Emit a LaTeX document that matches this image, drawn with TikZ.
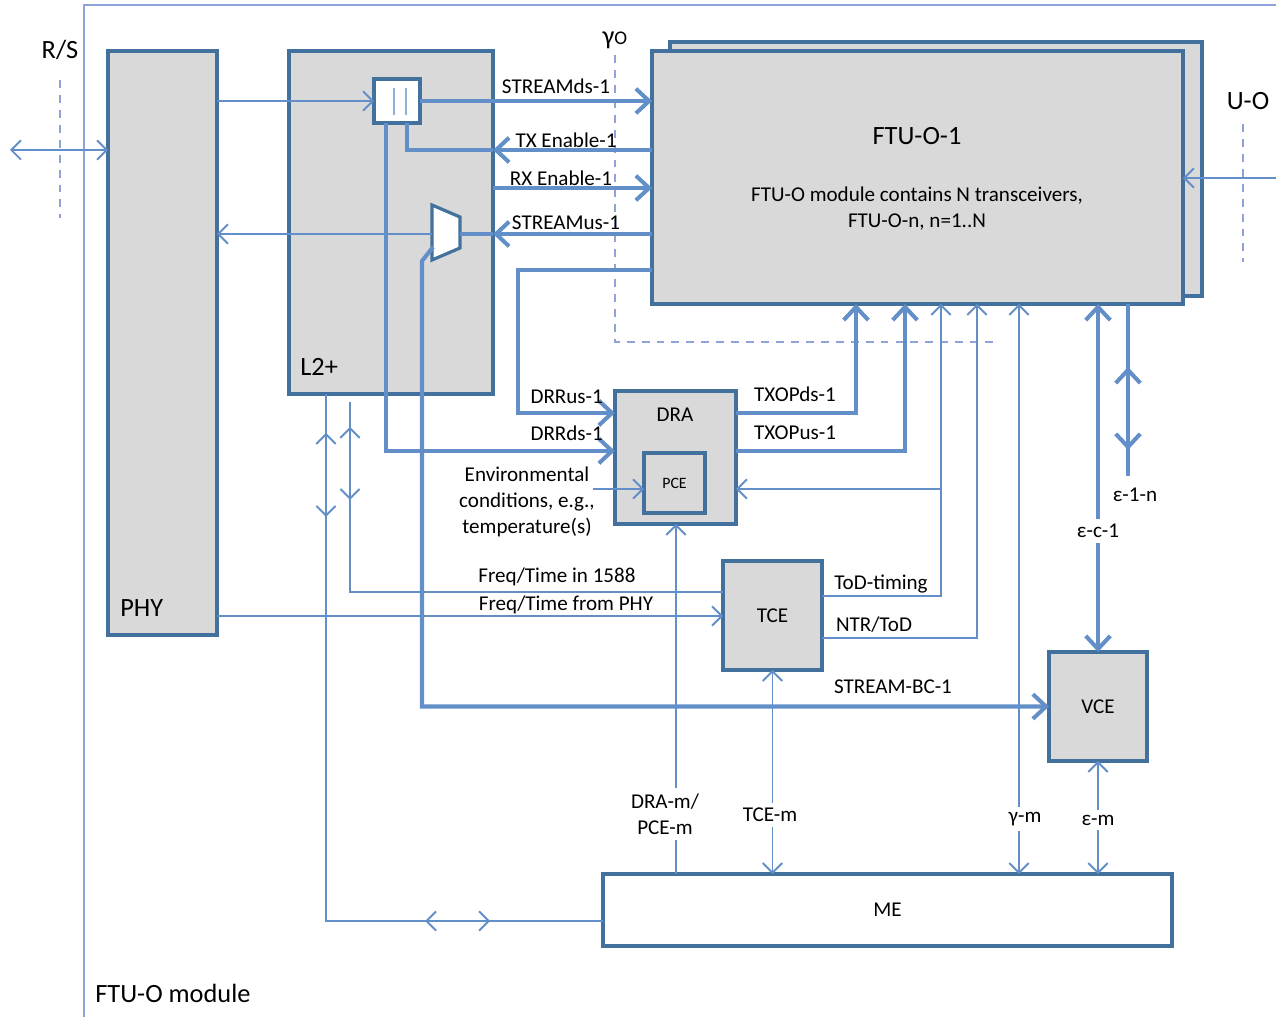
\documentclass[tikz,border=0pt]{standalone}
\usepackage{fontspec}
\setmainfont{Carlito}
\usetikzlibrary{arrows.meta,calc}
\definecolor{boxblue}{RGB}{65,113,156}
\definecolor{linkblue}{RGB}{99,143,200}
\definecolor{dashblue}{RGB}{143,162,218}
\definecolor{boxgray}{RGB}{217,217,217}
\tikzset{
  blk/.style={draw=boxblue, line width=2.3pt, fill=boxgray, inner sep=0pt, outer sep=0pt},
  wblk/.style={blk, fill=white},
  thinline/.style={linkblue, line width=1.1pt, >={Straight Barb[length=5.5pt,width=11pt]}},
  thickline/.style={linkblue, line width=2.3pt, >={Straight Barb[length=7.5pt,width=14pt]}},
  dashline/.style={dashblue, line width=1.1pt, dash pattern=on 4.5pt off 4pt},
  lbl/.style={font=\fontsize{12}{14.8}\selectfont, inner sep=1pt},
  big/.style={font=\fontsize{15}{18}\selectfont, inner sep=0pt},
  cut/.style={lbl, fill=white, inner sep=3pt},
}
\begin{document}
\begin{tikzpicture}[x=0.02cm, y=-0.02cm]
\useasboundingbox (0,0) rectangle (1276,1017);
% module frame and reference points
\draw[dashblue, line width=1.3pt] (84,1017) -- (84,5) -- (1276,5);
\node[big, anchor=west] (tModule) at (95,993) {FTU-O module};
\node[big] (tRS) at (60,50) {R/S};
\draw[dashline] (60,80) -- (60,218);
\node[big] (tUO) at (1248,101) {U-O};
\draw[dashline] (1243,124) -- (1243,262);
\node[big] (tGamO) at (615,40) {γ{\fontsize{11}{12}\selectfont O}};
\draw[dashline] (615,55) -- (615,342) -- (1000,342);

% blocks
\node[blk, minimum width=2.18cm, minimum height=11.68cm] (phy) at (162.5,343) {};
\node[big, anchor=west] (tPhy) at (120,608) {PHY};
\node[blk, minimum width=4.08cm, minimum height=6.86cm] (l2) at (391,222.5) {};
\node[big, anchor=west] (tL2) at (300,367) {L2+};
\node[blk, minimum width=10.64cm, minimum height=5.08cm] (ftuback) at (936,169) {};
\node[blk, minimum width=10.62cm, minimum height=5.06cm] (ftu) at (917.5,177.5) {};
\node[big] (tFtu) at (917,136) {FTU-O-1};
\node[lbl, align=center] (tFtuN) at (917,209)
  {FTU-O module contains N transceivers,\\FTU-O-n, n=1..N};
\node[blk, minimum width=2.42cm, minimum height=2.66cm] (dra) at (675.5,457.5) {};
\node[lbl] (tDra) at (675,415) {DRA};
\node[blk, minimum width=1.22cm, minimum height=1.2cm, font=\fontsize{9}{10}\selectfont] (pce) at (674.5,483) {PCE};
\node[blk, minimum width=1.98cm, minimum height=2.18cm, font=\fontsize{12}{14}\selectfont] (tce) at (772.5,615.5) {TCE};
\node[blk, minimum width=1.96cm, minimum height=2.18cm, font=\fontsize{12}{14}\selectfont] (vce) at (1098,706.5) {VCE};
\node[wblk, minimum width=11.38cm, minimum height=1.44cm, font=\fontsize{12}{14}\selectfont] (me) at (887.5,910) {ME};

% buffer and mux
\node[wblk, line width=1.8pt, minimum width=0.92cm, minimum height=0.88cm] (buf) at (397,101) {};
\draw[linkblue!70, line width=0.9pt] (394,88) -- (394,115) (406,88) -- (406,115);
\draw[draw=boxblue, fill=white, line width=1.8pt] (432,205) -- (460,217) -- (460,248) -- (432,260) -- cycle;
\coordinate (muxR) at (460,234);
\coordinate (muxL) at (432,234);
\coordinate (muxB) at (433,247);

% rows and columns used by the connectors
\coordinate (rsL) at (10,150);
\coordinate (uoR) at (1276,178);
\coordinate (envL) at (593,489);
\coordinate (yTx) at (0,150);
\coordinate (yRx) at (0,188);
\coordinate (yDrr) at (0,270);
\coordinate (yDra1) at (0,413);
\coordinate (yDra2) at (0,451);
\coordinate (yPce) at (0,489);
\coordinate (y1588) at (0,592);
\coordinate (yTod) at (0,596);
\coordinate (yPhy) at (0,616);
\coordinate (yNtr) at (0,638);
\coordinate (yMe) at (0,921);
\coordinate (xTxds) at (856,0);
\coordinate (xTxus) at (905,0);
\coordinate (xTod) at (941,0);
\coordinate (xNtr) at (977,0);
\coordinate (xGam) at (1019,0);
\coordinate (xEps) at (1128,0);
\coordinate (xDram) at (676,0);
\coordinate (xMgt) at (326,0);
\coordinate (x1588) at (350,0);

% PHY side
\draw[thinline,<->] (rsL) -- (rsL -| phy.west);
\draw[thinline,->] (phy.east |- buf.west) -- (buf.west);
\draw[thinline,->] (muxL) -- (phy.east |- muxL);
\draw[thinline,->] (phy.east |- yPhy) -- (tce.west |- yPhy);
\draw[thinline] (tce.west |- y1588) -| ($(l2.south -| x1588)+(0,8)$);
\draw[thinline,<->] ($(l2.south -| x1588)+(0,33)$) -- ++(0,73);
\draw[thinline] (l2.south -| xMgt) |- (me.west |- yMe);
\draw[thinline,<->] ($(l2.south -| xMgt)+(0,39)$) -- ++(0,84);
\draw[thinline,<->] ($(me.west |- yMe)+(-178,0)$) -- ++(65,0);

% L2+ to FTU-O-1
\draw[thickline,->] (buf.east) -- (ftu.west |- buf.east);
\draw[thickline,->] (ftu.west |- yTx) -- (l2.east |- yTx);
\draw[thickline] (l2.east |- yTx) -| ($(buf.south)+(10,0)$);
\draw[thickline,->] (l2.east |- yRx) -- (ftu.west |- yRx);
\draw[thickline,->] (ftu.west |- muxR) -- (l2.east |- muxR);
\draw[thickline] (l2.east |- muxR) -- (muxR);
\draw[thickline,->] (muxB) -- ++(-11,14) |- (vce.west);
\draw[thickline,->] ($(buf.south)+(-11,0)$) |- (dra.west |- yDra2);
\draw[thickline,->] (ftu.west |- yDrr) -- ++(-134,0) |- (dra.west |- yDra1);

% DRA, TCE to FTU-O-1
\draw[thickline,->] (dra.east |- yDra1) -| (ftu.south -| xTxds);
\draw[thickline,->] (dra.east |- yDra2) -| (ftu.south -| xTxus);
\draw[thinline,->] (envL) -- (pce.west |- envL);
\draw[thinline,->] (tce.east |- yTod) -| (ftu.south -| xTod);
\draw[thinline,->] (xTod |- yPce) -- (dra.east |- yPce);
\draw[thinline,->] (tce.east |- yNtr) -| (ftu.south -| xNtr);
\draw[thickline,<->] (ftu.south -| vce.north) -- (vce.north);
\draw[thickline] (ftu.south -| xEps) -- ($(ftu.south -| xEps)+(0,172)$);
\draw[thickline,<->] ($(ftu.south -| xEps)+(0,63)$) -- ++(0,83);
\draw[thinline,->] (uoR) -- (ftu.east |- uoR);

% management
\draw[thinline,<->] (me.north -| xGam) -- (ftu.south -| xGam);
\draw[thinline,<->] (tce.south) -- (tce.south |- me.north);
\draw[thinline,<->] (vce.south) -- (vce.south |- me.north);
\draw[thinline,->] (me.north -| xDram) -- (dra.south -| xDram);

% labels
\node[lbl] (tStreamDs) at (556,86) {STREAMds-1};
\node[lbl] (tTxEn) at (566,140) {TX Enable-1};
\node[lbl] (tRxEn) at (561,178) {RX Enable-1};
\node[lbl] (tStreamUs) at (566,223) {STREAMus-1};
\node[lbl, anchor=east] (tDrrUs) at (605,397) {DRRus-1};
\node[lbl, anchor=east] (tDrrDs) at (605,433) {DRRds-1};
\node[lbl, align=center] (tEnv) at (527,502) {Environmental\\conditions, e.g.,\\temperature(s)};
\node[lbl] (tTxopDs) at (795,394) {TXOPds-1};
\node[lbl] (tTxopUs) at (795,433) {TXOPus-1};
\node[lbl] (t1588) at (557,577) {Freq/Time in 1588};
\node[lbl] (tFromPhy) at (566,605) {Freq/Time from PHY};
\node[lbl] (tTod) at (881,584) {ToD-timing};
\node[lbl] (tNtr) at (874,625) {NTR/ToD};
\node[lbl] (tBc) at (893,687) {STREAM-BC-1};
\node[lbl] (tE1n) at (1135,495) {ε-1-n};
\node[cut] (tEc1) at (1098,531) {ε-c-1};
\node[cut, align=center] (tDram) at (665,814) {DRA-m/\\PCE-m};
\node[cut] (tTcem) at (770,815) {TCE-m};
\node[cut] (tGamm) at (1025,819) {γ-m};
\node[cut] (tEpsm) at (1098,820) {ε-m};
\end{tikzpicture}
\end{document}
